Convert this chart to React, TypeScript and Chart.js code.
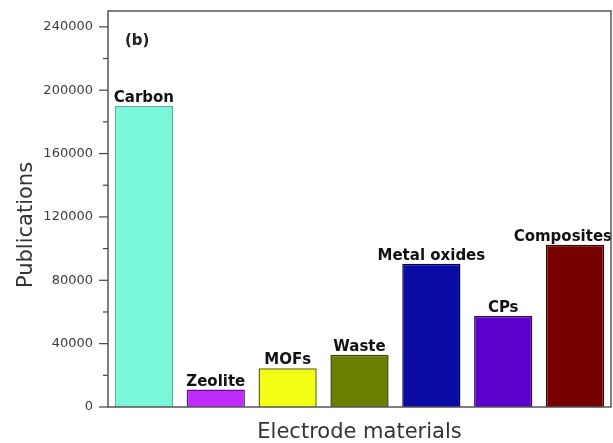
import React, { useEffect, useRef } from "react";
import { Chart, registerables } from "chart.js";

Chart.register(...registerables);

const categories = ["Carbon", "Zeolite", "MOFs", "Waste", "Metal oxides", "CPs", "Composites"];
const publications = [190000, 11000, 24500, 33000, 90500, 57500, 102500];
const fillColors = ["#78f7da", "#c02cff", "#f2ff14", "#6a7f00", "#0a0aa4", "#5c02cc", "#760000"];
const borderColors = ["#4fb89e", "#5a1080", "#6a6a00", "#3a4600", "#02024a", "#2c0066", "#3e0000"];
const yMax = 250000;
const yMajorTicks = [0, 40000, 80000, 120000, 160000, 200000, 240000];
const yMinorTicks = [20000, 60000, 100000, 140000, 180000, 220000];
const panelLabel = "(b)";
const xTitle = "Electrode materials";
const yTitle = "Publications";

const FONT = "'DejaVu Sans', Arial, sans-serif";

const decorPlugin = {
  id: "decor",
  afterDraw(chart: any) {
    const ctx = chart.ctx;
    const { left, right, top, bottom } = chart.chartArea;
    const y = chart.scales.y;
    ctx.save();

    // bar labels
    ctx.font = `bold 15px ${FONT}`;
    ctx.fillStyle = "#111";
    ctx.textBaseline = "alphabetic";
    ctx.textAlign = "left";
    const meta = chart.getDatasetMeta(0);
    meta.data.forEach((bar: any, i: number) => {
      const text = categories[i];
      const w = ctx.measureText(text).width;
      let x = bar.x - w / 2;
      if (x + w > right + 1) x = right + 1 - w;
      ctx.fillText(text, x, bar.y - 4);
    });

    // frame
    ctx.strokeStyle = "#555";
    ctx.lineWidth = 1.5;
    ctx.strokeRect(left, top, right - left, bottom - top);

    // y ticks (major long, minor short)
    ctx.strokeStyle = "#444";
    ctx.lineWidth = 1.2;
    const drawTick = (v: number, len: number) => {
      const py = y.getPixelForValue(v);
      ctx.beginPath();
      ctx.moveTo(left - len, py);
      ctx.lineTo(left, py);
      ctx.stroke();
    };
    yMajorTicks.forEach((v) => drawTick(v, 9));
    yMinorTicks.forEach((v) => drawTick(v, 5));

    // panel label
    ctx.font = `bold 15px ${FONT}`;
    ctx.fillStyle = "#222";
    ctx.textAlign = "left";
    ctx.textBaseline = "middle";
    ctx.fillText(panelLabel, left + 17, top + 30);

    // axis titles
    ctx.font = `21px ${FONT}`;
    ctx.fillStyle = "#333";
    ctx.textAlign = "center";
    ctx.textBaseline = "alphabetic";
    ctx.fillText(xTitle, (left + right) / 2, bottom + 31);

    ctx.translate(32, (top + bottom) / 2 + 16);
    ctx.rotate(-Math.PI / 2);
    ctx.fillText(yTitle, 0, 0);

    ctx.restore();
  },
};

export default function App() {
  const ref = useRef<HTMLCanvasElement | null>(null);

  useEffect(() => {
    if (!ref.current) return;
    const chart = new Chart(ref.current, {
      type: "bar",
      data: {
        labels: categories,
        datasets: [
          {
            data: publications,
            backgroundColor: fillColors,
            borderColor: borderColors,
            borderWidth: 1.5,
            categoryPercentage: 0.9,
            barPercentage: 0.9,
          },
        ],
      },
      options: {
        animation: false,
        responsive: false,
        maintainAspectRatio: false,
        layout: { padding: { top: 11, right: 2, left: 0, bottom: 0 } },
        plugins: {
          legend: { display: false },
          tooltip: { enabled: false },
        },
        scales: {
          x: {
            grid: { display: false },
            border: { display: false },
            ticks: { display: false },
            afterFit: (s: any) => {
              s.height = 36;
              s.paddingLeft = 0;
              s.paddingRight = 0;
            },
          },
          y: {
            min: 0,
            max: yMax,
            bounds: "data",
            grid: { display: false, drawTicks: false },
            border: { display: false },
            ticks: {
              autoSkip: false,
              padding: 15,
              color: "#3c3c3c",
              font: { family: FONT, size: 13 },
              callback: (v: any) => String(v),
            },
            afterBuildTicks: (s: any) => {
              s.ticks = yMajorTicks.map((v) => ({ value: v }));
            },
            afterFit: (s: any) => {
              s.width = 108;
              s.paddingTop = 0;
              s.paddingBottom = 0;
            },
          },
        },
      },
      plugins: [decorPlugin],
    });
    return () => chart.destroy();
  }, []);

  return (
    <div style={{ position: "absolute", left: 0, top: 0, width: 613, height: 443, background: "#fff" }}>
      <canvas ref={ref} width={613} height={443} />
    </div>
  );
}
